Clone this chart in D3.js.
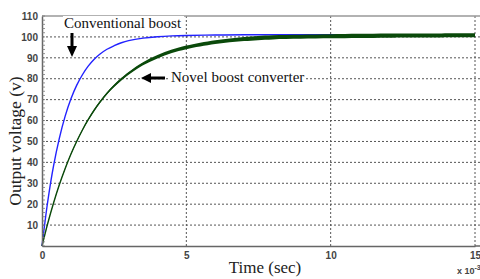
<!DOCTYPE html>
<html><head><meta charset="utf-8">
<script src="https://cdn.jsdelivr.net/npm/d3@7"></script>
<style>body{margin:0;background:#fff}svg{display:block}</style>
</head><body>
<script>
// time in ms (x 10^-3 s)
const timeMs = [0,0.2,0.4,0.6,0.8,1,1.2,1.4,1.6,1.8,2,2.25,2.5,2.75,3,3.5,4,4.5,5,6,7,8,10,12,15];
const conventional = [0,21.4,38.3,51.5,62,70.3,76.8,81.9,86,89.2,91.7,94.1,95.8,97.2,98.2,99.4,100.1,100.5,100.7,100.9,101,101,101,101,101];
const novel = [0,10.9,20.6,29.3,37,43.9,50,55.5,60.4,64.8,68.7,73,76.6,79.8,82.6,87.2,90.5,93.1,95,97.5,99,99.8,100.3,100.6,100.8];
const novelRipple = [0,0.15,0.3,0.4,0.5,0.6,0.7,0.75,0.8,0.9,1.0,1.1,1.2,1.25,1.3,1.45,1.6,1.7,1.8,1.9,2,2,2,2,2];
const xTicks = [0,5,10,15];
const yTicks = [0,10,20,30,40,50,60,70,80,90,100,110];

const W=480,H=279;
const svg=d3.select("body").append("svg").attr("width",W).attr("height",H);
const x=d3.scaleLinear().domain([0,15]).range([42,475]);
const y=d3.scaleLinear().domain([0,110]).range([246,16]);

// grid
const g=svg.append("g");
g.selectAll(".hg").data(yTicks.filter(v=>v>0&&v<110)).enter().append("line")
 .attr("x1",42).attr("x2",480).attr("y1",d=>y(d)).attr("y2",d=>y(d))
 .attr("stroke","#555").attr("stroke-width",1).attr("stroke-dasharray","2,2");
g.selectAll(".vg").data(xTicks.filter(v=>v>0)).enter().append("line")
 .attr("y1",16).attr("y2",246).attr("x1",d=>x(d)).attr("x2",d=>x(d))
 .attr("stroke","#555").attr("stroke-width",1).attr("stroke-dasharray","2,2");
// top border
svg.append("line").attr("x1",42).attr("x2",480).attr("y1",y(110)).attr("y2",y(110)).attr("stroke","#999").attr("stroke-width",1.5);

// curves
const curve=d3.curveCatmullRom.alpha(0.5);
const line=d3.line().x((d,i)=>x(timeMs[i])).y(d=>y(d)).curve(curve);
svg.append("path").datum(conventional).attr("d",line).attr("fill","none").attr("stroke","#2222ff").attr("stroke-width",1.4);
const area=d3.area().x((d,i)=>x(timeMs[i])).y0((d,i)=>y(d-novelRipple[i]/2)).y1((d,i)=>y(d+novelRipple[i]/2)).curve(curve);
svg.append("path").datum(novel).attr("d",area).attr("fill","#0b4a0b");
svg.append("path").datum(novel).attr("d",line).attr("fill","none").attr("stroke","#0b4a0b").attr("stroke-width",1.4);

// axes
const yAxis=d3.axisLeft(y).tickValues(yTicks.filter(v=>v>0)).tickSize(0).tickPadding(4);
const ya=svg.append("g").attr("transform","translate(42,0)").call(yAxis);
ya.select(".domain").attr("stroke","#666").attr("stroke-width",1.5);
ya.selectAll("text").attr("font-family","Arial, Liberation Sans").attr("font-size",10).attr("font-weight","bold").attr("fill","#444");
// minor ticks
svg.append("g").selectAll("line").data(d3.range(0,111,2)).enter().append("line")
 .attr("x1",42).attr("x2",45).attr("y1",d=>y(d)).attr("y2",d=>y(d)).attr("stroke","#777").attr("stroke-width",0.8);
const xAxis=d3.axisBottom(x).tickValues(xTicks).tickSize(0).tickPadding(6);
const xa=svg.append("g").attr("transform","translate(0,246)").call(xAxis);
xa.select(".domain").attr("stroke","#666").attr("stroke-width",1.5);
svg.append("line").attr("x1",475).attr("x2",480).attr("y1",246).attr("y2",246).attr("stroke","#666").attr("stroke-width",1.5);
xa.selectAll("text").attr("font-family","Arial, Liberation Sans").attr("font-size",10).attr("font-weight","bold").attr("fill","#444");

// labels
const serif="Times New Roman, Liberation Serif, serif";
svg.append("text").attr("x",265).attr("y",273).attr("text-anchor","middle").attr("font-family",serif).attr("font-size",17).attr("fill","#222").text("Time (sec)");
svg.append("text").attr("transform","translate(21,141) rotate(-90)").attr("text-anchor","middle").attr("font-family",serif).attr("font-size",17.5).attr("fill","#222").text("Output voltage (v)");
const ex=svg.append("text").attr("x",457).attr("y",274).attr("font-family","Arial, Liberation Sans").attr("font-size",9).attr("font-weight","bold").attr("fill","#444");
ex.append("tspan").text("x 10");
ex.append("tspan").attr("dy",-4).attr("font-size",7).text("-3");

// annotations
svg.append("rect").attr("x",63).attr("y",16).attr("width",121).attr("height",15).attr("fill","#fff");
svg.append("text").attr("x",64).attr("y",28).attr("font-family",serif).attr("font-size",15).attr("fill","#111").text("Conventional boost");
svg.append("line").attr("x1",72).attr("x2",72).attr("y1",33).attr("y2",48).attr("stroke","#000").attr("stroke-width",3);
svg.append("path").attr("d","M67,46 L77,46 L72,57 Z").attr("fill","#000");
svg.append("rect").attr("x",168).attr("y",70).attr("width",137).attr("height",15).attr("fill","#fff");
svg.append("text").attr("x",171).attr("y",82).attr("font-family",serif).attr("font-size",15).attr("fill","#111").text("Novel boost converter");
svg.append("line").attr("x1",165).attr("x2",149).attr("y1",78).attr("y2",78).attr("stroke","#000").attr("stroke-width",3);
svg.append("path").attr("d","M151,73 L151,83 L141,78 Z").attr("fill","#000");
</script>
</body></html>
